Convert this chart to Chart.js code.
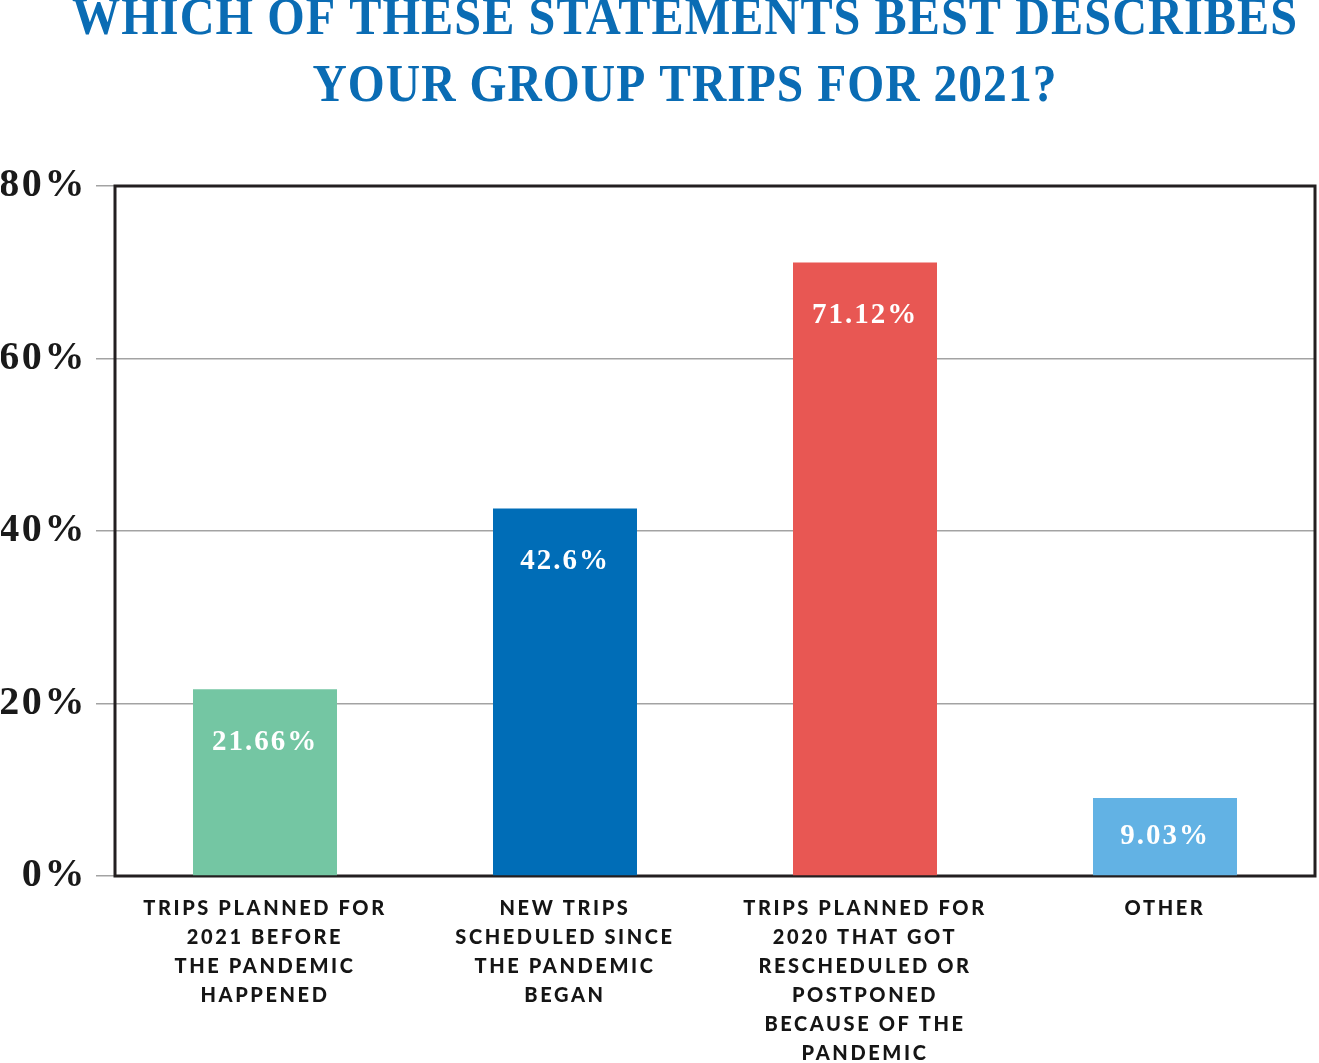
<!DOCTYPE html>
<html>
<head>
<meta charset="utf-8">
<script src="https://cdn.jsdelivr.net/npm/chart.js@4.4.1/dist/chart.umd.min.js"></script>
<style>
  html, body { margin: 0; padding: 0; background: #fff; }
  #wrap { width: 1319px; height: 1063px; }
</style>
</head>
<body>
<div id="wrap"><canvas id="tripsChart" width="1319" height="1063"></canvas></div>
<script>
// 圖表資料
const titleLines = ['WHICH OF THESE STATEMENTS BEST DESCRIBES', 'YOUR GROUP TRIPS FOR 2021?'];
const categories = [
    ['TRIPS PLANNED FOR', '2021 BEFORE', 'THE PANDEMIC', 'HAPPENED'],
    ['NEW TRIPS', 'SCHEDULED SINCE', 'THE PANDEMIC', 'BEGAN'],
    ['TRIPS PLANNED FOR', '2020 THAT GOT', 'RESCHEDULED OR', 'POSTPONED', 'BECAUSE OF THE', 'PANDEMIC'],
    ['OTHER']
];
const shares = [21.66, 42.6, 71.12, 9.03];
const barColors = ['#74c6a3', '#006db7', '#e85753', '#62b2e4'];
const yTickValues = [0, 20, 40, 60, 80];

const serif = '"Liberation Serif", "DejaVu Serif", serif';
const sans = 'Lato, "Open Sans", sans-serif';

// 字距設定：canvas 尺寸改變時會被重設，所以每次更新與繪製前都設一次
const spacingPlugin = {
    id: 'spacing',
    beforeUpdate(chart) { chart.ctx.letterSpacing = '2.6px'; },
    beforeDraw(chart) { chart.ctx.letterSpacing = '2.6px'; }
};

// 標題：窄體粗襯線字，依寬度水平壓縮
const titlePlugin = {
    id: 'condensedTitle',
    afterDraw(chart) {
        const ctx = chart.ctx;
        const targetWidths = [1226, 745];
        const baselines = [34, 101];
        ctx.save();
        ctx.fillStyle = '#0a6cb4';
        ctx.font = 'bold 46px ' + serif;
        ctx.letterSpacing = '1px';
        ctx.textAlign = 'center';
        ctx.textBaseline = 'alphabetic';
        titleLines.forEach((line, i) => {
            const w = ctx.measureText(line).width;
            ctx.save();
            ctx.translate(685, baselines[i]);
            ctx.scale(targetWidths[i] / w, 1.15);
            ctx.fillText(line, 0, 0);
            ctx.restore();
        });
        ctx.restore();
    }
};

// 粗黑外框，畫在長條之前
const framePlugin = {
    id: 'frame',
    beforeDatasetsDraw(chart) {
        const { ctx, chartArea: a } = chart;
        ctx.save();
        ctx.strokeStyle = '#231f20';
        ctx.lineWidth = 3;
        ctx.strokeRect(a.left, a.top, a.right - a.left, a.bottom - a.top);
        ctx.restore();
    }
};

// 長條內的白色數值
const valueLabelPlugin = {
    id: 'valueLabels',
    afterDatasetsDraw(chart) {
        const ctx = chart.ctx;
        const meta = chart.getDatasetMeta(0);
        ctx.save();
        ctx.fillStyle = '#ffffff';
        ctx.font = 'bold 29px ' + serif;
        ctx.letterSpacing = '2px';
        ctx.textAlign = 'center';
        ctx.textBaseline = 'middle';
        meta.data.forEach((bar, i) => {
            const h = bar.base - bar.y;
            ctx.fillText(shares[i] + '%', bar.x, bar.y + Math.min(53, h / 2));
        });
        ctx.restore();
    }
};

function initTripsChart() {
    const ctx = document.getElementById('tripsChart');
    if (!ctx) return;

    new Chart(ctx, {
        type: 'bar',
        data: {
            labels: categories,
            datasets: [{
                data: shares,
                backgroundColor: barColors,
                borderWidth: 0,
                barPercentage: 0.48,
                categoryPercentage: 1
            }]
        },
        options: {
            responsive: false,
            animation: false,
            devicePixelRatio: 1,
            layout: { padding: { top: 186, right: 4, left: 1, bottom: 0 } },
            plugins: {
                legend: { display: false },
                title: { display: false },
                tooltip: { enabled: false }
            },
            scales: {
                x: {
                    grid: { display: false },
                    border: { display: false },
                    ticks: {
                        color: '#151515',
                        padding: 10,
                        maxRotation: 0,
                        autoSkip: false,
                        font: { family: sans, size: 20, weight: '900', lineHeight: 1.45 }
                    },
                    afterFit(scale) { scale.height = 187; }
                },
                y: {
                    min: 0,
                    max: 80,
                    afterBuildTicks(scale) {
                        scale.ticks = yTickValues.map(v => ({ value: v }));
                    },
                    grid: {
                        color: '#a3a3a3',
                        lineWidth: 1.5,
                        tickLength: 19,
                        tickColor: '#a3a3a3'
                    },
                    border: { display: false },
                    ticks: {
                        color: '#1a1a1a',
                        padding: 9,
                        font: { family: serif, size: 40, weight: 'bold' },
                        callback: v => v + '%'
                    },
                    afterFit(scale) { scale.width = 114; }
                }
            }
        },
        plugins: [spacingPlugin, framePlugin, valueLabelPlugin, titlePlugin]
    });
}

initTripsChart();
</script>
</body>
</html>
